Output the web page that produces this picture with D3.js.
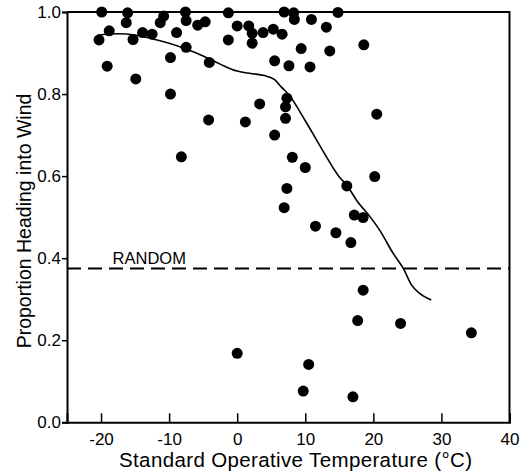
<!DOCTYPE html>
<html>
<head>
<meta charset="utf-8">
<script src="https://cdnjs.cloudflare.com/ajax/libs/d3/7.8.5/d3.min.js"></script>
<style>
  body { margin: 0; background: #fff; }
  svg text { font-family: "Liberation Sans", Arial, sans-serif; fill: #000; }
</style>
</head>
<body>
<svg id="chart"></svg>
<script>
// observed points: standard operative temperature vs proportion heading into wind
var tempVals = [-19.9, -20.3, -18.8, -19.1, -16.1, -16.3, -15.3, -14.9, -13.9, -12.5,
  -10.8, -11.3, -9.8, -8.9, -9.8, -7.6, -7.5, -7.5, -8.2, -5.8,
  -4.7, -4.1, -4.2, -1.3, -1.3, 0.0, 0.0, 1.7, 2.2, 2.2,
  1.2, 3.3, 3.8, 5.3, 6.6, 6.9, 8.3, 8.4, 5.5, 7.6,
  9.4, 10.7, 10.9, 13.1, 14.8, 13.6, 18.6, 7.3, 7.1, 7.1,
  5.5, 8.1, 10.0, 7.3, 6.9, 20.5, 20.2, 16.1, 17.2, 18.5,
  11.5, 14.5, 16.7, 18.5, 17.7, 24.0, 34.4, 10.5, 9.7, 17.0];
var propVals = [1.0, 0.932, 0.954, 0.868, 0.998, 0.974, 0.933, 0.837, 0.950, 0.946,
  0.990, 0.974, 0.889, 0.950, 0.800, 1.0, 0.979, 0.914, 0.647, 0.968,
  0.976, 0.877, 0.737, 0.998, 0.932, 0.966, 0.168, 0.966, 0.948, 0.924,
  0.732, 0.776, 0.950, 0.958, 0.946, 1.0, 0.998, 0.982, 0.881, 0.869,
  0.911, 0.866, 0.982, 0.963, 0.999, 0.905, 0.920, 0.790, 0.769, 0.741,
  0.700, 0.646, 0.621, 0.570, 0.523, 0.751, 0.599, 0.576, 0.505, 0.499,
  0.478, 0.462, 0.438, 0.322, 0.248, 0.241, 0.218, 0.141, 0.076, 0.062];

// fitted curve
var curveTemp = [-20.5, -17.5, -15, -12.5, -10, -7.5, -5, -2.5, 0, 2, 4, 5.5, 6.5, 7.5,
  10, 12.5, 15, 16.1, 17.5, 19.7, 20.9, 22.9, 24.4, 25.6, 26.8, 28.5];
var curveProp = [0.944, 0.947, 0.944, 0.935, 0.924, 0.910, 0.893, 0.873, 0.856, 0.850, 0.845, 0.835, 0.817, 0.800,
  0.735, 0.664, 0.598, 0.578, 0.542, 0.497, 0.469, 0.412, 0.375, 0.335, 0.314, 0.298];

var randomLevel = 0.375;
var xTicks = [-20, -10, 0, 10, 20, 30, 40];
var yTicks = [0, 0.2, 0.4, 0.6, 0.8, 1.0];

var width = 529, height = 476;
var svg = d3.select("#chart").attr("width", width).attr("height", height);

var x = d3.scaleLinear().domain([-25, 40]).range([67, 509.5]);
var y = d3.scaleLinear().domain([0, 1]).range([422.3, 12]);

// frame (top + right)
svg.append("path")
  .attr("d", "M" + x(-25) + "," + y(1) + "H" + x(40) + "V" + y(0))
  .attr("fill", "none").attr("stroke", "#000").attr("stroke-width", 2);

// x axis, ticks pointing in
var xAxis = svg.append("g")
  .attr("transform", "translate(0," + y(0) + ")")
  .call(d3.axisBottom(x).tickValues(xTicks).tickSize(-9).tickPadding(11)
    .tickFormat(function (d) { return d < 0 ? "-" + Math.abs(d) : d; }));
xAxis.select(".domain").attr("stroke-width", 2);
xAxis.selectAll(".tick line").attr("stroke-width", 1.5);
xAxis.selectAll(".tick").filter(function (d) { return d === 40; }).select("line").remove();
xAxis.selectAll("text").style("font-size", "17px").attr("font-family", null);

// y axis, ticks pointing out
var yAxis = svg.append("g")
  .attr("transform", "translate(" + x(-25) + ",0)")
  .call(d3.axisLeft(y).tickValues(yTicks).tickSize(5).tickPadding(1).tickFormat(d3.format(".1f")));
yAxis.select(".domain").attr("stroke-width", 2);
yAxis.selectAll(".tick line").attr("stroke-width", 1.5);
yAxis.selectAll("text").style("font-size", "17px").attr("font-family", null);

// random line
svg.append("line")
  .attr("x1", x(-25)).attr("x2", x(40))
  .attr("y1", y(randomLevel)).attr("y2", y(randomLevel))
  .attr("stroke", "#000").attr("stroke-width", 2)
  .attr("stroke-dasharray", "14,7");
svg.append("text")
  .attr("x", x(-18.3)).attr("y", y(randomLevel) - 4)
  .style("font-size", "16.5px")
  .text("RANDOM");

// fitted curve
var line = d3.line()
  .x(function (d, i) { return x(curveTemp[i]); })
  .y(function (d, i) { return y(curveProp[i]); })
  .curve(d3.curveMonotoneX);
svg.append("path")
  .datum(curveTemp)
  .attr("d", line)
  .attr("fill", "none").attr("stroke", "#000").attr("stroke-width", 1.6);

// points
svg.append("g").selectAll("circle")
  .data(tempVals)
  .enter().append("circle")
  .attr("cx", function (d) { return x(d); })
  .attr("cy", function (d, i) { return y(propVals[i]); })
  .attr("r", 5.5)
  .attr("fill", "#000");

// axis titles
svg.append("text")
  .attr("x", 295.5).attr("y", 467)
  .attr("text-anchor", "middle")
  .attr("textLength", 353).attr("lengthAdjust", "spacing")
  .style("font-size", "20.5px")
  .text("Standard Operative Temperature (\u00B0C)");
svg.append("text")
  .attr("transform", "translate(31,221) rotate(-90)")
  .attr("text-anchor", "middle")
  .style("font-size", "19.5px")
  .text("Proportion Heading into Wind");
</script>
</body>
</html>
